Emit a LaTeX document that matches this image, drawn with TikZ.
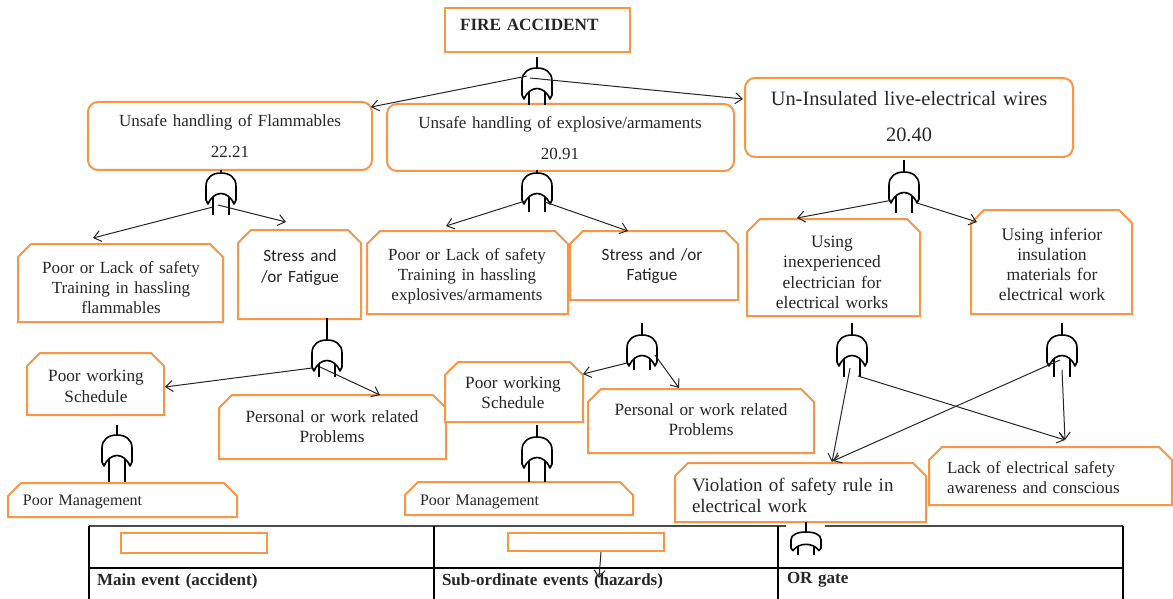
\documentclass[tikz,border=0pt]{standalone}
\usepackage{fontspec}
\setmainfont{Liberation Serif}
\newfontfamily\calfont{Carlito}
\usetikzlibrary{arrows.meta}
\definecolor{ora}{HTML}{F79646}
\definecolor{txtc}{HTML}{262626}
\newcommand\chambox[1]{\draw[ev] ([yshift=-13pt]#1.north west) -- ([xshift=13pt]#1.north west) -- ([xshift=-13pt]#1.north east) -- ([yshift=-13pt]#1.north east) -- (#1.south east) -- (#1.south west) -- cycle;}
\tikzset{
  ev/.style={draw=ora, line width=2pt, fill=white},
  rbox/.style={ev, rounded corners=10pt, rectangle, inner sep=0pt, outer sep=0pt},
  sbox/.style={ev, rectangle, inner sep=0pt, outer sep=0pt},
  cnode/.style={rectangle, inner sep=0pt, outer sep=0pt},
  tx/.style={inner sep=0pt, outer sep=0pt, text=txtc, align=center, text width=#1, anchor=base},
  tx/.default=300pt,
  txl/.style={inner sep=0pt, outer sep=0pt, text=txtc, align=left, text width=#1, anchor=base west},
  txl/.default=300pt,
  gate/.style={draw=black, line width=1.6pt, line join=round},
  arr/.style={draw=black!85, line width=1pt, -{Straight Barb[length=7pt,width=11pt]}},
  tline/.style={draw=black, line width=1.1pt},
  pics/orgate/.style 2 args={code={
    \draw[gate] (0,-#1) -- (0,0);
    \draw[gate] (-15,27) -- (-15,13) .. controls (-15,4) and (-8,0) .. (0,0)
      .. controls (8,0) and (15,4) .. (15,13) -- (15,27) -- (13,31)
      .. controls (7,17) and (-7,17) .. (-13,31) -- cycle;
    \draw[gate] (-8,24) -- (-8,#2) (8,24) -- (8,#2);
  }}
}
\begin{document}
\begin{tikzpicture}[x=1pt,y=-1pt]
\useasboundingbox (0,0) rectangle (1173,599);
\fill[white] (0,0) rectangle (1173,599);

% ---- boxes
\node[sbox, minimum width=185pt, minimum height=44pt] (fire) at (537.5,30) {};
\node[rbox, minimum width=284pt, minimum height=68pt] (flam) at (230,136) {};
\node[rbox, minimum width=347pt, minimum height=67pt] (expl) at (560.5,137.5) {};
\node[rbox, minimum width=328pt, minimum height=79pt] (unins) at (909,117.5) {};

\node[cnode, minimum width=205pt, minimum height=78pt] (pl1) at (120.5,283) {}; \chambox{pl1}
\node[cnode, minimum width=123pt, minimum height=89pt] (st1) at (299.5,274.5) {}; \chambox{st1}
\node[cnode, minimum width=201pt, minimum height=83pt] (pl2) at (467.5,272.5) {}; \chambox{pl2}
\node[cnode, minimum width=168pt, minimum height=69pt] (st2) at (654,265.5) {}; \chambox{st2}
\node[cnode, minimum width=173pt, minimum height=97pt] (ue1) at (833.5,267.5) {}; \chambox{ue1}
\node[cnode, minimum width=161pt, minimum height=104pt] (ue2) at (1051.5,262) {}; \chambox{ue2}

\node[cnode, minimum width=137pt, minimum height=62pt] (pws1) at (95.5,384) {}; \chambox{pws1}
\node[cnode, minimum width=227pt, minimum height=64pt] (pwr1) at (332.5,427) {}; \chambox{pwr1}
\node[cnode, minimum width=138pt, minimum height=60pt] (pws2) at (514,392) {}; \chambox{pws2}
\node[cnode, minimum width=226pt, minimum height=64pt] (pwr2) at (701,421) {}; \chambox{pwr2}
\node[cnode, minimum width=229pt, minimum height=34pt] (pm1) at (122.5,500) {}; \chambox{pm1}
\node[cnode, minimum width=228pt, minimum height=33pt] (pm2) at (519,498.5) {}; \chambox{pm2}
\node[cnode, minimum width=251pt, minimum height=59pt] (vio) at (800.5,492.5) {}; \chambox{vio}
\node[cnode, minimum width=243pt, minimum height=58pt] (lack) at (1050.5,476) {}; \chambox{lack}

% ---- texts
\node[txl, font=\bfseries\fontsize{17.2}{20}\selectfont] (firet) at (460,31) {FIRE ACCIDENT};
\node[tx, font=\fontsize{17}{20.5}\selectfont] (flamt) at (230,127) {Unsafe handling of Flammables\\[10.5pt]22.21};
\node[tx, font=\fontsize{17}{20.5}\selectfont] (explt) at (560,129) {Unsafe handling of explosive/armaments\\[10.5pt]20.91};
\node[tx, font=\fontsize{20.4}{24}\selectfont] (unint) at (909,106) {Un-Insulated live-electrical wires\\[12pt]20.40};

\node[tx, font=\fontsize{17}{20.3}\selectfont] (pl1t) at (121,273) {Poor or Lack of safety\\Training in hassling\\flammables};
\node[tx, font=\calfont\fontsize{17.2}{21}\selectfont] (st1t) at (300,261) {Stress and\\/or Fatigue};
\node[tx, font=\fontsize{17}{20}\selectfont] (pl2t) at (467,260) {Poor or Lack of safety\\Training in hassling\\explosives/armaments};
\node[tx, font=\calfont\fontsize{17.2}{20}\selectfont] (st2t) at (652,260) {Stress and /or\\Fatigue};
\node[tx, font=\fontsize{17.4}{20.5}\selectfont] (ue1t) at (832,247) {Using\\inexperienced\\electrician for\\electrical works};
\node[tx, font=\fontsize{17.6}{20.3}\selectfont] (ue2t) at (1052,240) {Using inferior\\insulation\\materials for\\electrical work};

\node[tx, font=\fontsize{17.2}{21}\selectfont] (pws1t) at (96,381) {Poor working\\Schedule};
\node[tx, font=\fontsize{17.2}{20}\selectfont] (pwr1t) at (332,422) {Personal or work related\\Problems};
\node[tx, font=\fontsize{17.2}{20}\selectfont] (pws2t) at (513,388) {Poor working\\Schedule};
\node[tx, font=\fontsize{17.2}{20}\selectfont] (pwr2t) at (701,415) {Personal or work related\\Problems};
\node[txl, font=\fontsize{16}{19}\selectfont] (pm1t) at (23,505) {Poor Management};
\node[txl, font=\fontsize{16}{19}\selectfont] (pm2t) at (420,505) {Poor Management};
\node[txl, font=\fontsize{19}{21}\selectfont] (viot) at (692,491) {Violation of safety rule in\\electrical work};
\node[txl, font=\fontsize{17}{20}\selectfont] (lackt) at (947,473) {Lack of electrical safety\\awareness and conscious};

% ---- gates
\pic (g1) at (537,68) {orgate={11}{37}};
\pic (g2) at (221,173) {orgate={3}{42}};
\pic (g3) at (537,173) {orgate={3}{39}};
\pic (g4) at (904,172) {orgate={12}{41}};
\pic (g5) at (327,340) {orgate={22}{37}};
\pic (g6) at (117,435) {orgate={10}{47}};
\pic (g7) at (642,335) {orgate={12}{35}};
\pic (g8) at (537,437) {orgate={12}{45}};
\pic (g9) at (852,335) {orgate={12}{42}};
\pic (g10) at (1062,335) {orgate={12}{42}};

% ---- connector ends
\coordinate (s1) at (527,76);   \coordinate (e1) at (371,107);
\coordinate (s2) at (530,78);   \coordinate (e2) at (743,99);
\coordinate (s3) at (213,207);  \coordinate (e3) at (93,238);
\coordinate (s4) at (218,205);  \coordinate (e4) at (286,222);
\coordinate (s5) at (525,201);  \coordinate (e5) at (446,226);
\coordinate (s6) at (545,202);  \coordinate (e6) at (628,231);
\coordinate (s7) at (893,200);  \coordinate (e7) at (797,218);
\coordinate (s8) at (917,203);  \coordinate (e8) at (977,222);
\coordinate (s9) at (312,368);  \coordinate (e9) at (165,387);
\coordinate (s10) at (320,367); \coordinate (e10) at (380,395);
\coordinate (s11) at (627,363); \coordinate (e11) at (583,374);
\coordinate (s12) at (655,355); \coordinate (e12) at (679,388);
\coordinate (s13) at (850,368); \coordinate (e13) at (832,462);
\coordinate (s14) at (858,376); \coordinate (e14) at (1065,440);
\coordinate (s15) at (1060,360); \coordinate (e15) at (833,461);
\coordinate (s16) at (1062,370); \coordinate (e16) at (1065,440);

\foreach \i in {1,...,16} {\draw[arr] (s\i) -- (e\i);}

% ---- legend
\draw[draw=black!70, line width=1.4pt] (89,526) -- (1123,526);
\draw[tline] (89,526) -- (89,605) (434,526) -- (434,605) (778,526) -- (778,605) (1123,526) -- (1123,605);
\draw[tline] (89,568) -- (1123,568);
\fill[white] (786,523.5) rectangle (825,528.5);
\node[sbox, minimum width=146pt, minimum height=20pt] (lg1) at (194,543) {};
\node[sbox, minimum width=156pt, minimum height=18pt] (lg2) at (586,541.5) {};
\pic[yscale=0.6] (lgg) at (806,532) {orgate={17}{38}};
\coordinate (la0) at (601,552); \coordinate (la1) at (599,578);
\draw[arr] (la0) -- (la1);
\node[txl, font=\bfseries\fontsize{17}{20}\selectfont] (lt1) at (97,585) {Main event (accident)};
\node[txl, font=\bfseries\fontsize{17}{20}\selectfont] (lt2) at (442,585) {Sub-ordinate events (hazards)};
\node[txl, font=\bfseries\fontsize{17}{20}\selectfont] (lt3) at (787,583) {OR gate};
\end{tikzpicture}
\end{document}
